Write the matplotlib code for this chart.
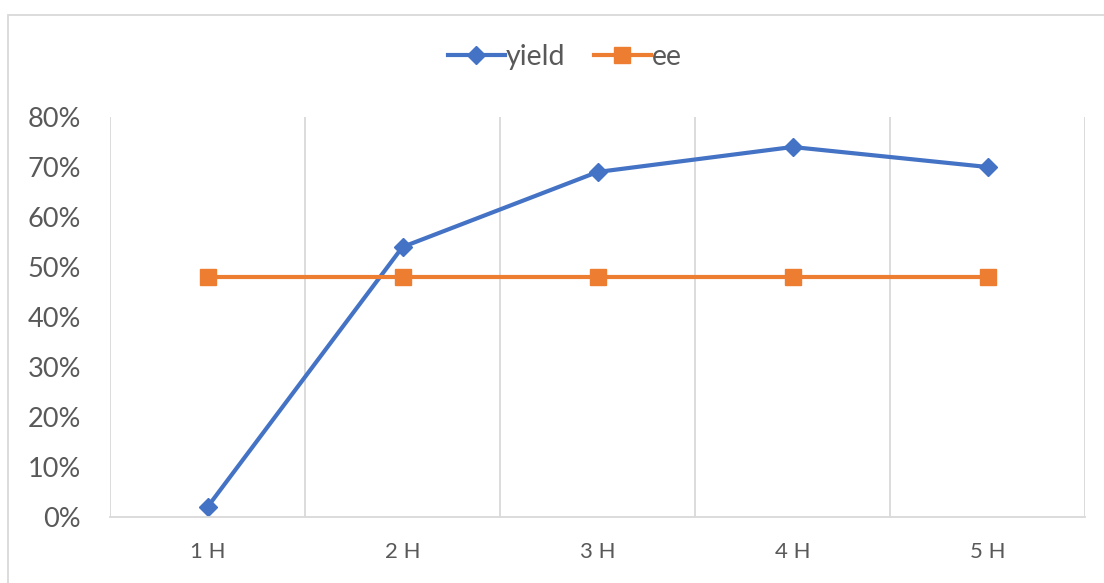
import matplotlib.pyplot as plt
from matplotlib.patches import Rectangle
from matplotlib.ticker import FuncFormatter

categories = ['1 H', '2 H', '3 H', '4 H', '5 H']
yield_vals = [0.02, 0.54, 0.69, 0.74, 0.70]
ee_vals = [0.48, 0.48, 0.48, 0.48, 0.48]

plt.rcParams['font.family'] = ['Lato', 'DejaVu Sans']
txt = '#595959'
grid = '#D9D9D9'

fig = plt.figure(figsize=(11.04, 5.83), dpi=100)
ax = fig.add_axes([110/1104, 66/583, 975/1104, 400/583])

x = range(len(categories))
ax.plot(x, yield_vals, color='#4472C4', lw=3, marker='D', ms=9, label='yield')
ax.plot(x, ee_vals, color='#ED7D31', lw=3, marker='s', ms=11, label='ee')

ax.set_xlim(-0.5, len(categories) - 0.5)
ax.set_ylim(0, 0.8)
ax.set_yticks([i / 10 for i in range(9)])
ax.yaxis.set_major_formatter(FuncFormatter(lambda v, p: '{:.0f}%'.format(v * 100)))
ax.set_xticks(list(x))
ax.set_xticklabels(categories)

# vertical gridlines between categories
ax.set_xticks([i - 0.5 for i in range(len(categories) + 1)], minor=True)
ax.grid(True, which='minor', axis='x', color=grid, lw=1.3)
ax.grid(False, which='major')

for s in ['top', 'left', 'right']:
    ax.spines[s].set_visible(False)
ax.spines['bottom'].set_color(grid)
ax.spines['bottom'].set_linewidth(1.3)
ax.tick_params(which='both', length=0)
ax.tick_params(axis='y', labelsize=19.5, colors=txt, pad=21)
ax.tick_params(axis='x', labelsize=16, colors=txt, pad=18)

leg = fig.legend(loc='center', bbox_to_anchor=(565/1104, 1 - 57/583), ncol=2,
                 frameon=False, fontsize=20.5, handlelength=2.0, columnspacing=1.0,
                 handletextpad=0.05)
for t in leg.get_texts():
    t.set_color(txt)

# chart area border
fig.patches.append(Rectangle((8/1104, -0.01), 1.1, 1 - 15/583 + 0.01,
                             transform=fig.transFigure, fill=False,
                             edgecolor=grid, lw=1.3))

fig.savefig('out.png', dpi=100)
